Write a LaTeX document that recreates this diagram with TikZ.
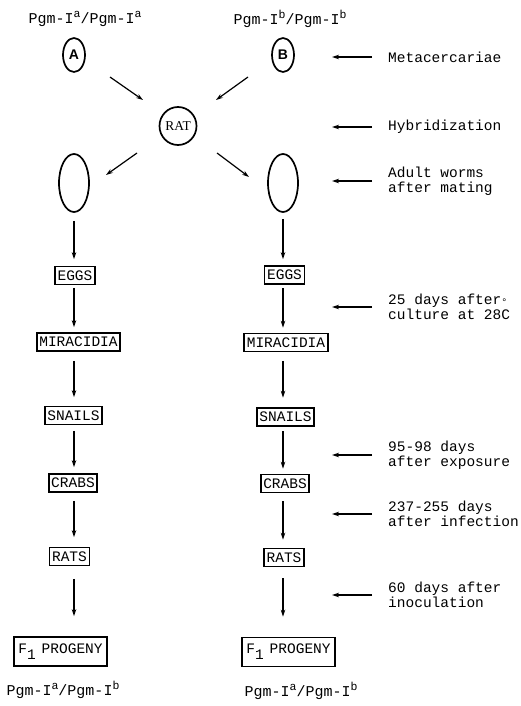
\documentclass[tikz,border=0pt]{standalone}
\usepackage{fontspec}
\usetikzlibrary{shapes.geometric,arrows.meta}
\newfontfamily\monof{Liberation Mono}
\newfontfamily\sansf{Liberation Sans}
\newfontfamily\seriff{Liberation Serif}
\newcommand{\supx}[1]{\raisebox{5.5pt}{\fontsize{11.5}{11.5}\selectfont #1}}
\tikzset{
  arr/.style={line width=1.2pt,-{Stealth[length=7pt,width=4.5pt]}},
  sidearr/.style={line width=1.4pt,-{Stealth[length=7pt,width=4.5pt]}},
  boxn/.style={draw,line width=1.7pt,inner xsep=2.5pt,inner ysep=0pt,minimum height=18pt,
    font=\fontsize{14.5}{15}\monof},
  oval/.style={draw,ellipse,line width=1.7pt,inner sep=0pt},
  sidelab/.style={anchor=west,inner sep=0pt,align=left,font=\fontsize{14.5}{15}\monof},
  gen/.style={inner sep=0pt,font=\fontsize{15}{15}\monof},
}
\begin{document}
\begin{tikzpicture}[x=1pt,y=-1pt]
\useasboundingbox (0,0) rectangle (521,706);
% genotype labels
\node[gen] (ga) at (85,19) {Pgm-I\supx{a}/Pgm-I\supx{a}};
\node[gen] (gb) at (290,19) {Pgm-I\supx{b}/Pgm-I\supx{b}};
% metacercariae
\node[oval,minimum width=22pt,minimum height=34pt,font=\fontsize{14}{14}\sansf\bfseries] (A) at (74,55) {A};
\node[oval,minimum width=22pt,minimum height=34pt,font=\fontsize{14}{14}\sansf\bfseries] (B) at (283,55) {B};
% rat
\node[oval,minimum width=37pt,minimum height=38pt,font=\fontsize{13.5}{14}\seriff] (rat) at (178,126) {RAT};
% adult worms
\node[oval,minimum width=30pt,minimum height=58pt] (L) at (74,183) {};
\node[oval,minimum width=30pt,minimum height=58pt] (R) at (283,183) {};
% left column boxes
\node[boxn] (eggsL) at (75,275.5) {EGGS};
\node[boxn] (mirL) at (78.5,342) {MIRACIDIA};
\node[boxn] (snL) at (73.5,415.5) {SNAILS};
\node[boxn] (crL) at (73,483) {CRABS};
\node[boxn] (raL) at (69.5,556.5) {RATS};
\node[boxn,minimum height=29pt,inner xsep=4pt] (f1L) at (60.5,651.5) {F\raisebox{-6pt}{1}\hspace{6pt}PROGENY};
% right column boxes
\node[boxn] (eggsR) at (284.5,275) {EGGS};
\node[boxn] (mirR) at (286,342.5) {MIRACIDIA};
\node[boxn] (snR) at (285.5,417) {SNAILS};
\node[boxn] (crR) at (285,483.5) {CRABS};
\node[boxn] (raR) at (284,557.5) {RATS};
\node[boxn,minimum height=29pt,inner xsep=4pt] (f1R) at (288.5,652) {F\raisebox{-6pt}{1}\hspace{6pt}PROGENY};
% bottom genotypes
\node[gen] (pl) at (63,690) {Pgm-I\supx{a}/Pgm-I\supx{b}};
\node[gen] (pr) at (301,691) {Pgm-I\supx{a}/Pgm-I\supx{b}};
% diagonal arrows
\draw[arr] ([shift={(36,22)}]A.center) -- ([shift={(-35,-26)}]rat.center);
\draw[arr] ([shift={(-35,22)}]B.center) -- ([shift={(38,-26)}]rat.center);
\draw[arr] ([shift={(-41,27)}]rat.center) -- ([shift={(32,-8)}]L.center);
\draw[arr] ([shift={(39,27)}]rat.center) -- ([shift={(-34,-6)}]R.center);
% left column arrows
\draw[arr,shorten <=8pt,shorten >=6.5pt] (L.south) -- (L.south |- eggsL.north);
\draw[arr,shorten <=2.5pt,shorten >=5pt] (eggsL.south -| L) -- (mirL.north -| L);
\draw[arr,shorten <=9pt,shorten >=8.5pt] (mirL.south -| L) -- (snL.north -| L);
\draw[arr,shorten <=5.5pt,shorten >=6pt] (snL.south -| L) -- (crL.north -| L);
\draw[arr,shorten <=8pt,shorten >=9.5pt] (crL.south -| L) -- (raL.north -| L);
\draw[arr,shorten <=12.5pt,shorten >=20pt] (raL.south -| L) -- (f1L.north -| L);
% right column arrows
\draw[arr,shorten <=6pt,shorten >=6pt] (R.south) -- (R.south |- eggsR.north);
\draw[arr,shorten <=3.5pt,shorten >=5pt] (eggsR.south -| R) -- (mirR.north -| R);
\draw[arr,shorten <=8.5pt,shorten >=9.5pt] (mirR.south -| R) -- (snR.north -| R);
\draw[arr,shorten <=4.5pt,shorten >=5pt] (snR.south -| R) -- (crR.north -| R);
\draw[arr,shorten <=8pt,shorten >=8pt] (crR.south -| R) -- (raR.north -| R);
\draw[arr,shorten <=11pt,shorten >=20pt] (raR.south -| R) -- (f1R.north -| R);
% side labels
\node[sidelab] (s1) at (388,57) {Metacercariae};
\node[sidelab] (s2) at (388,127) {Hybridization};
\node[sidelab] (s3) at (388,181) {Adult worms\\after mating};
\node[sidelab] (s4) at (388,307) {25 days after\rlap{\raisebox{-1pt}{\fontsize{10}{10}\selectfont °}}\\culture at 28C};
\node[sidelab] (s5) at (388,455) {95-98 days\\after exposure};
\node[sidelab] (s6) at (388,514) {237-255 days\\after infection};
\node[sidelab] (s7) at (388,595) {60 days after\\inoculation};
\foreach \s in {s1,s2,s3,s4,s5,s6,s7}{
  \draw[sidearr] ([xshift=-16pt]\s.west) -- ++(-40,0);
}
\end{tikzpicture}
\end{document}
